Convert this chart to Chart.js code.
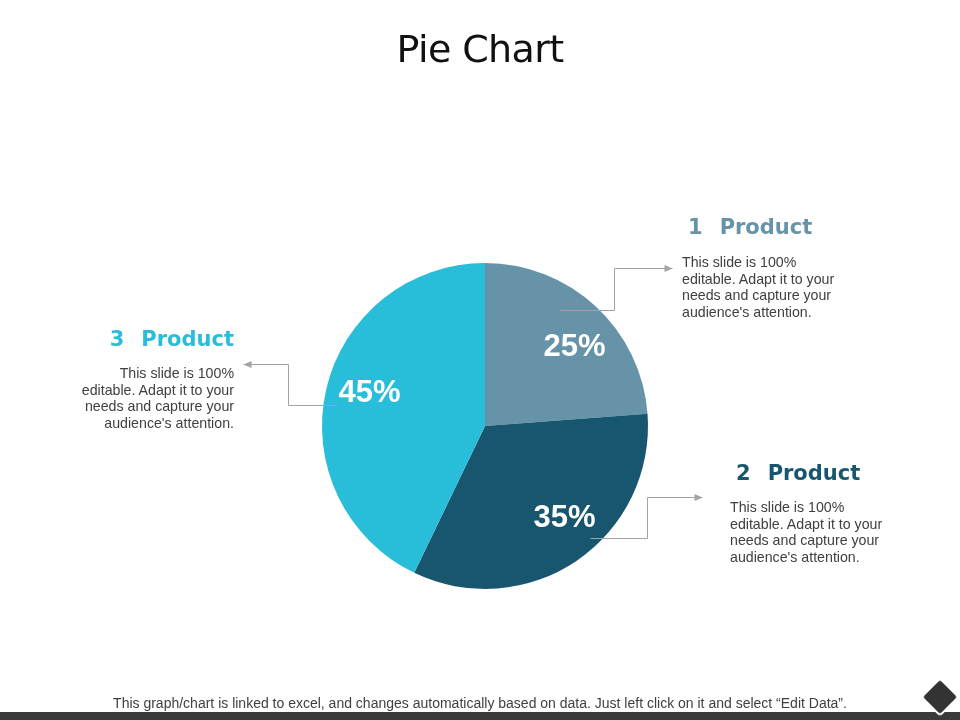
<!DOCTYPE html>
<html>
<head>
<meta charset="utf-8">
<script src="https://cdn.jsdelivr.net/npm/chart.js@4"></script>
<style>
  html, body { margin:0; padding:0; width:960px; height:720px; background:#fff; overflow:hidden; }
  #wrap { position:absolute; left:0; top:0; width:960px; height:720px; }
  canvas { position:absolute; left:0; top:0; }
  .title { position:absolute; left:0; width:960px; top:27px; text-align:center; font-family:"DejaVu Sans", Verdana, sans-serif; font-size:38px; color:#111; letter-spacing:-0.6px; }
  .head { position:absolute; font-family:"DejaVu Sans", Verdana, sans-serif; font-weight:bold; font-size:21px; white-space:nowrap; line-height:24px; }
  .head .num { margin-right:17px; }
  .body { position:absolute; font-family:"Liberation Sans", Arial, sans-serif; font-size:14.2px; line-height:16.6px; color:#404040; width:180px; }
  .footer { position:absolute; left:0; width:960px; top:695px; text-align:center; font-family:"Liberation Sans Narrow", "Liberation Sans", Arial, sans-serif; font-size:14px; color:#404040; }
  .bar { position:absolute; left:0; top:712px; width:960px; height:8px; background:#3a3a3a; }
  .diamond { position:absolute; left:926px; top:683px; width:24px; height:24px; background:#333; border:2px solid #fff; border-radius:4px; transform:rotate(45deg); }
</style>
</head>
<body>
<div id="wrap">
  <canvas id="c" width="960" height="720"></canvas>
  <div class="title">Pie Chart</div>
  <div class="head" id="h1" style="left:688px; top:215px;"></div>
  <div class="body" id="b1" style="left:682px; top:254px; text-align:left;"></div>
  <div class="head" id="h2" style="left:736px; top:461px;"></div>
  <div class="body" id="b2" style="left:730px; top:499px; text-align:left;"></div>
  <div class="head" id="h3" style="left:34px; top:327px; width:200px; text-align:right;"></div>
  <div class="body" id="b3" style="left:54px; top:365px; text-align:right;"></div>
  <div class="footer">This graph/chart is linked to excel, and changes automatically based on data. Just left click on it and select “Edit Data”.</div>
  <div class="bar"></div>
  <div class="diamond"></div>
</div>
<script>
// ---- data ----
const categories = ['Product', 'Product', 'Product'];
const categoryNumbers = ['1', '2', '3'];
const values = [25, 35, 45];
const valueLabels = ['25%', '35%', '45%'];
const sliceColors = ['#6693a8', '#185670', '#28bdd8'];
const descriptions = [
  "This slide is 100%<br>editable. Adapt it to your<br>needs and capture your<br>audience's attention.",
  "This slide is 100%<br>editable. Adapt it to your<br>needs and capture your<br>audience's attention.",
  "This slide is 100%<br>editable. Adapt it to your<br>needs and capture your<br>audience's attention."
];

// headings and descriptions
for (let i = 0; i < categories.length; i++) {
  const h = document.getElementById('h' + (i + 1));
  h.innerHTML = '<span class="num">' + categoryNumbers[i] + '</span>' + categories[i];
  h.style.color = sliceColors[i];
  document.getElementById('b' + (i + 1)).innerHTML = descriptions[i];
}

// ---- plugin: labels and connectors ----
const labelAngleTweak = [5, -7, 4];          // degrees
const labelRadiusFactor = 0.74;
// connector polylines, offsets from pie center (px)
const connectors = [
  [[75, -116], [129, -116], [129, -158], [187, -158]],
  [[105, 112], [162, 112], [162, 71], [217, 71]],
  [[-148, -21], [-197, -21], [-197, -62], [-242, -62]]
];

const piePlugin = {
  id: 'piePlugin',
  afterDatasetsDraw(chart) {
    const ctx = chart.ctx;
    const meta = chart.getDatasetMeta(0);
    const first = meta.data[0];
    const cx = first.x, cy = first.y;
    ctx.save();
    // connectors
    ctx.strokeStyle = '#a3a3a3';
    ctx.fillStyle = '#a3a3a3';
    ctx.lineWidth = 1;
    connectors.forEach(pts => {
      ctx.beginPath();
      pts.forEach((p, k) => {
        const x = Math.round(cx + p[0]) + 0.5, y = Math.round(cy + p[1]) + 0.5;
        if (k === 0) ctx.moveTo(x, y); else ctx.lineTo(x, y);
      });
      ctx.stroke();
      const a = pts[pts.length - 2], b = pts[pts.length - 1];
      const dir = Math.sign(b[0] - a[0]);
      const tx = Math.round(cx + b[0]) + 0.5, ty = Math.round(cy + b[1]) + 0.5;
      ctx.beginPath();
      ctx.moveTo(tx, ty);
      ctx.lineTo(tx - dir * 8, ty - 3.5);
      ctx.lineTo(tx - dir * 8, ty + 3.5);
      ctx.closePath();
      ctx.fill();
    });
    // value labels
    ctx.fillStyle = '#ffffff';
    ctx.font = 'bold 31px "Liberation Sans", Arial, sans-serif';
    ctx.textAlign = 'center';
    ctx.textBaseline = 'middle';
    meta.data.forEach((arc, i) => {
      const mid = (arc.startAngle + arc.endAngle) / 2 + labelAngleTweak[i] * Math.PI / 180;
      const r = arc.outerRadius * labelRadiusFactor;
      ctx.fillText(valueLabels[i], arc.x + Math.cos(mid) * r, arc.y + Math.sin(mid) * r + 2);
    });
    ctx.restore();
  }
};

new Chart(document.getElementById('c'), {
  type: 'pie',
  data: {
    labels: categories.map((c, i) => categoryNumbers[i] + ' ' + c),
    datasets: [{
      data: values,
      backgroundColor: sliceColors,
      borderWidth: 0
    }]
  },
  options: {
    responsive: false,
    animation: false,
    layout: { padding: { left: 322, right: 312, top: 263, bottom: 131 } },
    plugins: {
      legend: { display: false },
      tooltip: { enabled: false },
      title: { display: false }
    }
  },
  plugins: [piePlugin]
});
</script>
</body>
</html>
